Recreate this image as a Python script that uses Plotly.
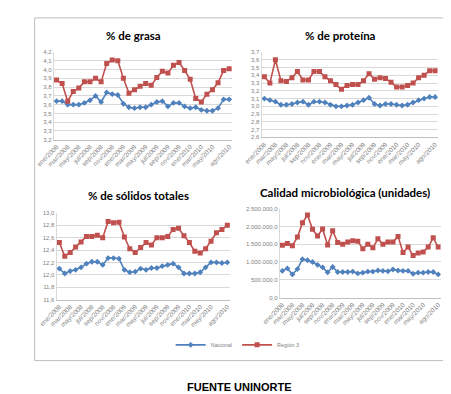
import plotly.graph_objects as go

W, H = 451, 394

months = []
mn = ["ene", "feb", "mar", "abr", "may", "jun", "jul", "ago", "sep", "oct", "nov", "dic"]
for y in (2008, 2009, 2010):
    for m in mn:
        months.append(f"{m}/{y}")
months = months[:32]
tick_labels = ["ene/2008", "mar/2008", "may/2008", "jul/2008", "sep/2008", "nov/2008",
               "ene/2009", "mar/2009", "may/2009", "jul/2009", "sep/2009", "nov/2009",
               "ene/2010", "mar/2010", "may/2010", "ago/2010"]

grasa_reg = [3.88, 3.84, 3.64, 3.75, 3.79, 3.86, 3.86, 3.90, 3.86, 4.07, 4.11, 4.10, 3.90, 3.73, 3.77, 3.81,
             3.84, 3.82, 3.91, 3.98, 3.96, 4.05, 4.08, 3.99, 3.89, 3.67, 3.63, 3.72, 3.77, 3.85, 3.99, 4.01]
grasa_nac = [3.64, 3.64, 3.60, 3.60, 3.60, 3.62, 3.65, 3.70, 3.63, 3.74, 3.72, 3.71, 3.61, 3.57, 3.56, 3.57,
             3.57, 3.60, 3.63, 3.64, 3.58, 3.62, 3.62, 3.58, 3.56, 3.57, 3.54, 3.53, 3.53, 3.56, 3.66, 3.66]
prot_reg = [3.38, 3.30, 3.60, 3.33, 3.32, 3.37, 3.45, 3.34, 3.34, 3.45, 3.45, 3.38, 3.33, 3.28, 3.22, 3.27,
            3.28, 3.28, 3.33, 3.42, 3.35, 3.37, 3.36, 3.31, 3.25, 3.25, 3.27, 3.30, 3.37, 3.40, 3.46, 3.46]
prot_nac = [3.10, 3.08, 3.06, 3.02, 3.02, 3.03, 3.05, 3.06, 3.02, 3.06, 3.06, 3.05, 3.02, 3.00, 3.00, 3.01,
            3.02, 3.05, 3.08, 3.11, 3.03, 3.01, 3.03, 3.03, 3.02, 3.01, 3.02, 3.05, 3.08, 3.10, 3.12, 3.12]
sol_reg = [12.52, 12.30, 12.36, 12.45, 12.53, 12.62, 12.62, 12.64, 12.60, 12.86, 12.84, 12.85, 12.61, 12.42, 12.36, 12.44,
           12.52, 12.48, 12.60, 12.60, 12.62, 12.73, 12.75, 12.63, 12.52, 12.38, 12.35, 12.42, 12.54, 12.68, 12.73, 12.80]
sol_nac = [12.10, 12.02, 12.06, 12.08, 12.12, 12.18, 12.21, 12.21, 12.16, 12.27, 12.27, 12.26, 12.08, 12.04, 12.05, 12.10,
           12.08, 12.11, 12.11, 12.14, 12.16, 12.18, 12.12, 12.02, 12.02, 12.02, 12.04, 12.12, 12.20, 12.20, 12.19, 12.20]
micro_reg = [1470000, 1520000, 1460000, 1700000, 2100000, 2320000, 1920000, 1730000, 1930000, 1480000, 1880000,
             1550000, 1500000, 1560000, 1600000, 1580000, 1370000, 1500000, 1400000, 1650000, 1500000, 1560000,
             1560000, 1720000, 1270000, 1420000, 1180000, 1250000, 1280000, 1420000, 1680000, 1420000]
micro_nac = [750000, 820000, 650000, 800000, 1080000, 1050000, 1000000, 920000, 850000, 710000, 860000, 720000,
             720000, 720000, 730000, 680000, 700000, 730000, 730000, 760000, 750000, 740000, 790000, 760000,
             750000, 750000, 670000, 700000, 700000, 720000, 720000, 650000]

titles = ["% de grasa", "% de proteína", "% de sólidos totales", "Calidad microbiológica (unidades)"]
series_names = ["Nacional", "Región 3"]

BLUE = "#4F81BD"
RED = "#C0504D"

panels = [
    (grasa_nac, grasa_reg, (29, 215), (41.7, 130.7), (3.2, 4.2), 0.1, ".1f", (112, 25)),
    (prot_nac, prot_reg, (246, 430), (41.7, 128.3), (2.6, 3.7), 0.1, ".1f", (328, 25)),
    (sol_nac, sol_reg, (32, 213), (205, 293), (11.6, 13.0), 0.2, ".1f", (117, 187)),
    (micro_nac, micro_reg, (265, 433), (200.7, 291), (0, 2500000), 500000, ",.1f", (333, 184)),
]

tickvals = [months.index(t) for t in tick_labels]

fig = go.Figure()
for i, (nac, reg, xp, yp, yr, dt, tf, tp) in enumerate(panels):
    n = i + 1
    xa = "x" if n == 1 else f"x{n}"
    ya = "y" if n == 1 else f"y{n}"
    xs = list(range(len(months)))
    fig.add_trace(go.Scatter(x=xs, y=nac, xaxis=xa, yaxis=ya, mode="lines+markers",
                             name=series_names[0], legendgroup="n", showlegend=(n == 1),
                             line=dict(color=BLUE, width=1.6),
                             marker=dict(symbol="diamond", size=4.5, color=BLUE)))
    fig.add_trace(go.Scatter(x=xs, y=reg, xaxis=xa, yaxis=ya, mode="lines+markers",
                             name=series_names[1], legendgroup="r", showlegend=(n == 1),
                             line=dict(color=RED, width=1.6),
                             marker=dict(symbol="square", size=5, color=RED)))
    xkey = "xaxis" if n == 1 else f"xaxis{n}"
    ykey = "yaxis" if n == 1 else f"yaxis{n}"
    fig.layout[xkey] = dict(domain=[xp[0] / W, xp[1] / W], anchor=ya, range=[-0.5, 31.5],
                            tickmode="array", tickvals=tickvals, ticktext=tick_labels,
                            tickangle=-45, tickfont=dict(size=6.5, color="#7F7F7F", family="Liberation Sans"),
                            showgrid=False, showline=True, linecolor="#BFBFBF", linewidth=1,
                            ticks="", zeroline=False, fixedrange=True)
    fig.layout[ykey] = dict(domain=[1 - yp[1] / H, 1 - yp[0] / H], anchor=xa, range=list(yr),
                            dtick=dt, tick0=yr[0], tickformat=tf,
                            tickfont=dict(size=6, color="#7F7F7F", family="Liberation Sans"),
                            showgrid=True, gridcolor="#D9D9D9", gridwidth=1, zeroline=False,
                            showline=True, linecolor="#D9D9D9", ticks="", fixedrange=True)
    fig.add_annotation(text="<b>" + titles[i] + "</b>", x=tp[0] / W, y=1 - tp[1] / H, xref="paper", yref="paper",
                       showarrow=False, xanchor="center", yanchor="middle",
                       font=dict(size=11.5, family="Lato", color="#000000"))

fig.add_shape(type="rect", xref="paper", yref="paper", x0=9 / W, x1=442 / W, y0=1 - 355 / H, y1=1 - 7 / H,
              line=dict(color="#BFBFBF", width=1))
fig.add_annotation(text="<b>FUENTE UNINORTE</b>", x=223 / W, y=1 - 382 / H, xref="paper", yref="paper",
                   showarrow=False, xanchor="center", yanchor="middle",
                   font=dict(size=11, family="Liberation Sans", color="#000000"))

fig.update_layout(
    width=W, height=H, margin=dict(l=0, r=0, t=0, b=0),
    paper_bgcolor="white", plot_bgcolor="white", separators=",.",
    legend=dict(orientation="h", x=0.49, xanchor="center", y=1 - 339 / H, yanchor="middle",
                font=dict(size=5.5, color="#7F7F7F", family="Liberation Sans"), itemwidth=30,
                bgcolor="rgba(0,0,0,0)"),
)

fig.write_html("out.html")
